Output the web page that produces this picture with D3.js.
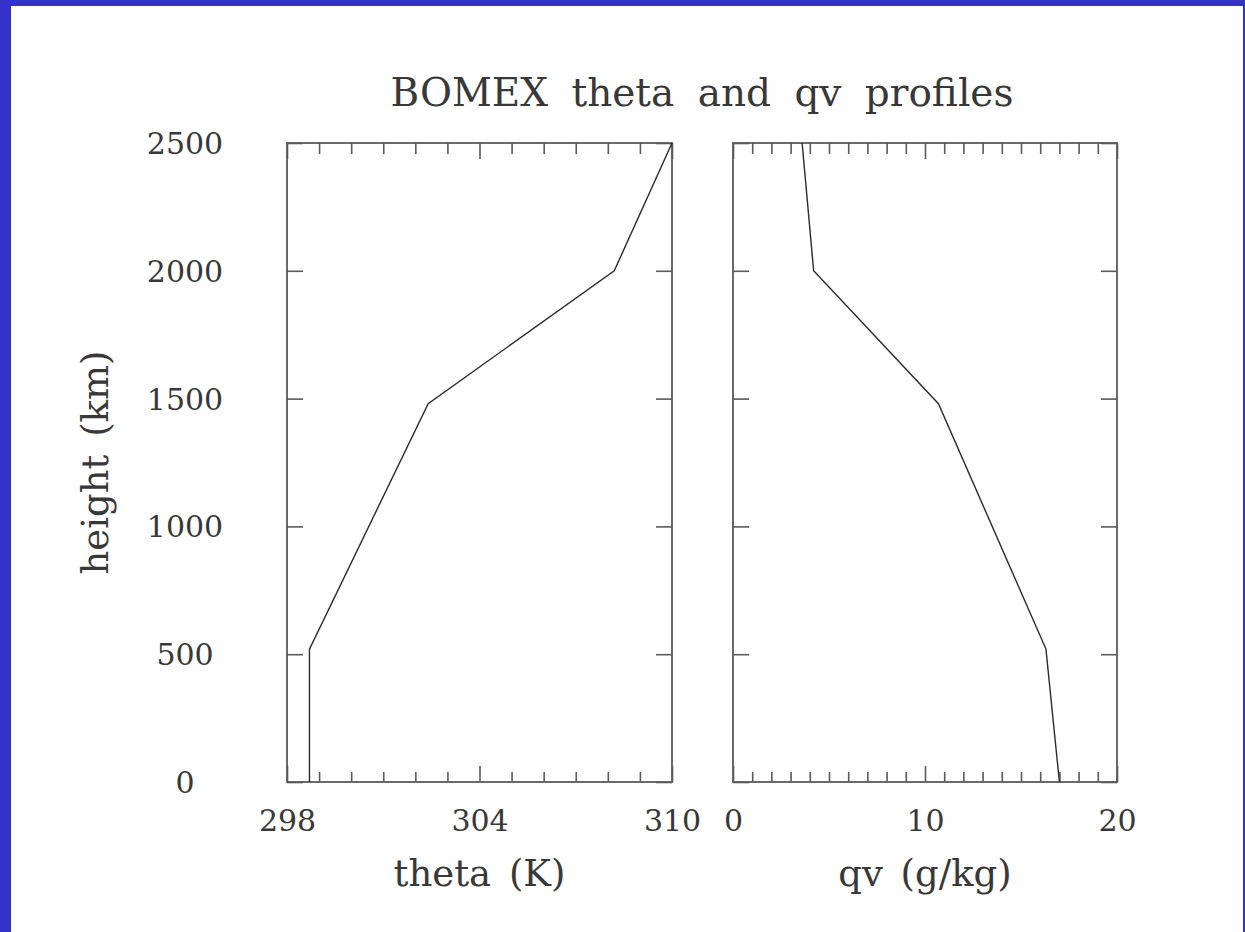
<!DOCTYPE html>
<html>
<head>
<meta charset="utf-8">
<script src="https://cdn.jsdelivr.net/npm/d3@7"></script>
<style>
  html, body { margin: 0; padding: 0; background: #fff; }
  svg { display: block; }
  text { font-family: "DejaVu Serif", "Liberation Serif", serif; fill: #383838; }
</style>
</head>
<body>
<svg id="chart" width="1245" height="932"></svg>
<script>
// BOMEX initial soundings
const heightLevels = [0, 520, 1480, 2000, 2500];           // m
const thetaValues  = [298.7, 298.7, 302.4, 308.2, 310.0];  // K
const qvValues     = [17.0, 16.3, 10.7, 4.2, 3.6];         // g/kg

// Axis ticks
const heightTicks     = [0, 500, 1000, 1500, 2000, 2500];
const thetaMajorTicks = [298, 304, 310];
const thetaMinorTicks = [299, 300, 301, 302, 303, 305, 306, 307, 308, 309];
const qvMajorTicks    = [0, 10, 20];
const qvMinorTicks    = [1, 2, 3, 4, 5, 6, 7, 8, 9, 11, 12, 13, 14, 15, 16, 17, 18, 19];

const titleText  = "BOMEX theta and qv profiles";
const yLabelText = "height (km)";
const panels = [
  { label: "theta (K)",  domain: [298, 310], major: thetaMajorTicks, minor: thetaMinorTicks, values: thetaValues, left: 287, right: 672 },
  { label: "qv (g/kg)",  domain: [0, 20],    major: qvMajorTicks,    minor: qvMinorTicks,    values: qvValues,    left: 733, right: 1117 }
];

const W = 1245, H = 932;
const plotTop = 143, plotBottom = 782;
const frameColor = "#5a5a5a";
const lineColor = "#2a2a2a";

const svg = d3.select("#chart");

// page border
svg.append("rect").attr("x", 0).attr("y", 0).attr("width", W).attr("height", H).attr("fill", "#3333cc");
svg.append("rect").attr("x", 11).attr("y", 6).attr("width", W - 11 - 2).attr("height", H - 6).attr("fill", "#fff");

const y = d3.scaleLinear().domain([0, 2500]).range([plotBottom, plotTop]);

function styleAxis(g) {
  g.select(".domain").remove();
  g.selectAll(".tick line").attr("stroke", frameColor).attr("stroke-width", 1.6);
}

panels.forEach((p, i) => {
  const x = d3.scaleLinear().domain(p.domain).range([p.left, p.right]);
  const g = svg.append("g");

  // minor ticks, bottom and top
  g.append("g").attr("transform", `translate(0,${plotBottom})`)
    .call(d3.axisBottom(x).tickValues(p.minor).tickSizeInner(-10).tickSizeOuter(0).tickFormat(""))
    .call(styleAxis);
  g.append("g").attr("transform", `translate(0,${plotTop})`)
    .call(d3.axisTop(x).tickValues(p.minor).tickSizeInner(-11).tickSizeOuter(0).tickFormat(""))
    .call(styleAxis);

  // major ticks with labels on the bottom
  const xb = g.append("g").attr("transform", `translate(0,${plotBottom})`)
    .call(d3.axisBottom(x).tickValues(p.major).tickSizeInner(-16).tickSizeOuter(0).tickFormat(d3.format("d")))
    .call(styleAxis);
  xb.selectAll(".tick text")
    .attr("y", 38).attr("dy", "0.35em")
    .attr("font-size", 30).attr("font-family", "DejaVu Serif").attr("fill", "#383838");
  g.append("g").attr("transform", `translate(0,${plotTop})`)
    .call(d3.axisTop(x).tickValues(p.major).tickSizeInner(-16).tickSizeOuter(0).tickFormat(""))
    .call(styleAxis);

  // height ticks on both sides
  const yl = g.append("g").attr("transform", `translate(${p.left},0)`)
    .call(d3.axisLeft(y).tickValues(heightTicks).tickSizeInner(-16).tickSizeOuter(0)
      .tickFormat(i === 0 ? d3.format("d") : ""))
    .call(styleAxis);
  if (i === 0) {
    yl.selectAll(".tick text")
      .attr("x", -102).attr("dy", "0.35em").attr("text-anchor", "middle")
      .attr("font-size", 30).attr("font-family", "DejaVu Serif").attr("fill", "#383838");
  }
  g.append("g").attr("transform", `translate(${p.right},0)`)
    .call(d3.axisRight(y).tickValues(heightTicks).tickSizeInner(-16).tickSizeOuter(0).tickFormat(""))
    .call(styleAxis);

  // frame
  g.append("rect")
    .attr("x", p.left).attr("y", plotTop)
    .attr("width", p.right - p.left).attr("height", plotBottom - plotTop)
    .attr("fill", "none").attr("stroke", frameColor).attr("stroke-width", 1.8);

  // profile
  const line = d3.line()
    .x((d, k) => x(p.values[k]))
    .y(d => y(d));
  g.append("path")
    .datum(heightLevels)
    .attr("d", line)
    .attr("fill", "none")
    .attr("stroke", lineColor)
    .attr("stroke-width", 1.4);

  // axis label
  g.append("text")
    .attr("x", (p.left + p.right) / 2).attr("y", 886)
    .attr("text-anchor", "middle")
    .attr("font-size", 37)
    .attr("word-spacing", 6)
    .text(p.label);
});

// title
svg.append("text")
  .attr("x", (panels[0].left + panels[1].right) / 2).attr("y", 106)
  .attr("text-anchor", "middle")
  .attr("font-size", 39)
  .attr("word-spacing", 11)
  .text(titleText);

// y-axis label
svg.append("text")
  .attr("transform", `translate(108,${(plotTop + plotBottom) / 2}) rotate(-90)`)
  .attr("text-anchor", "middle")
  .attr("font-size", 37)
  .attr("word-spacing", 6)
  .text(yLabelText);
</script>
</body>
</html>
